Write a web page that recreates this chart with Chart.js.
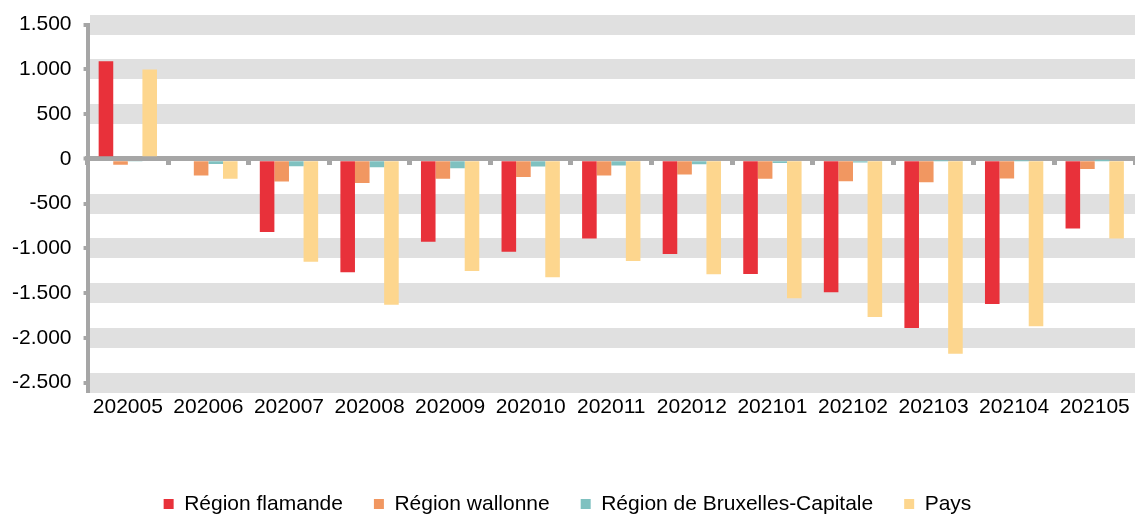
<!DOCTYPE html>
<html>
<head>
<meta charset="utf-8">
<script src="https://cdn.jsdelivr.net/npm/chart.js@4"></script>
<style>
  body { margin: 0; background: #fff; }
  #wrap { width: 1135px; height: 516px; }
</style>
</head>
<body>
<div id="wrap"><canvas id="evolChart"></canvas></div>
<script>
const months = ['202005', '202006', '202007', '202008', '202009', '202010', '202011',
    '202012', '202101', '202102', '202103', '202104', '202105'];
const flandre = [1090, 0, -817, -1269, -928, -1039, -891, -1065, -1287, -1491, -1891, -1624, -780];
const wallonie = [-65, -187, -253, -269, -224, -202, -187, -176, -224, -250, -261, -220, -113];
const bruxelles = [-30, -58, -83, -94, -106, -87, -76, -61, -46, -40, -15, -15, -10];
const pays = [998, -224, -1150, -1631, -1253, -1324, -1143, -1291, -1557, -1769, -2180, -1872, -891];
const yTicks = [1500, 1000, 500, 0, -500, -1000, -1500, -2000, -2500];

const axisGrey = '#a6a6a6';
const font = { family: '"Liberation Sans", Arial, sans-serif', size: 21 };

// 1.500 style (dot as thousands separator)
function fmt(v) {
    const s = String(Math.abs(v)).replace(/\B(?=(\d{3})+(?!\d))/g, '.');
    return v < 0 ? '-' + s : s;
}

const isZero = (c) => c.tick && c.tick.value === 0;

new Chart(document.getElementById('evolChart'), {
    type: 'bar',
    data: {
        labels: months,
        datasets: [
            { label: 'Région flamande', data: flandre, backgroundColor: '#e8313a', xAxisID: 'x' },
            { label: 'Région wallonne', data: wallonie, backgroundColor: '#f19761', xAxisID: 'x' },
            { label: 'Région de Bruxelles-Capitale', data: bruxelles, backgroundColor: '#7fc1c0', xAxisID: 'x' },
            { label: 'Pays', data: pays, backgroundColor: '#fdd68e', xAxisID: 'x' }
        ]
    },
    options: {
        responsive: true,
        maintainAspectRatio: false,
        animation: false,
        categoryPercentage: 0.724,
        barPercentage: 1,
        layout: { padding: { left: 0, right: 0, top: 22, bottom: -8.5 } },
        plugins: {
            tooltip: { enabled: false },
            legend: {
                position: 'bottom',
                labels: { font: font, color: '#000', boxWidth: 10, boxHeight: 10, padding: 31 }
            }
        },
        scales: {
            x: {
                grid: { display: false, drawTicks: false },
                border: { display: false },
                ticks: { font: font, color: '#000', padding: 12, maxRotation: 0, autoSkip: false },
                afterFit: (s) => { s.height = 80; s.paddingLeft = 0; s.paddingRight = 0; }
            },
            // zero line with the small category marks under it
            x2: {
                type: 'category',
                position: { y: 0 },
                offset: true,
                z: 1,
                grid: { offset: true, drawOnChartArea: false, tickLength: 4, tickWidth: 5, tickColor: axisGrey },
                border: { display: true, color: axisGrey, width: 5 },
                ticks: { display: false }
            },
            y: {
                min: -2500,
                max: 1500,
                afterBuildTicks: (s) => { s.ticks = yTicks.map(v => ({ value: v })); },
                grid: {
                    lineWidth: (c) => isZero(c) ? 5 : 20,
                    color: (c) => isZero(c) ? 'rgba(0,0,0,0)' : '#e0e0e0',
                    tickLength: 4,
                    tickWidth: 4,
                    tickColor: axisGrey
                },
                border: { display: true, color: axisGrey, width: 4 },
                ticks: { font: font, color: '#000', padding: 12, callback: (v) => fmt(v) }
            }
        }
    }
});
</script>
</body>
</html>
